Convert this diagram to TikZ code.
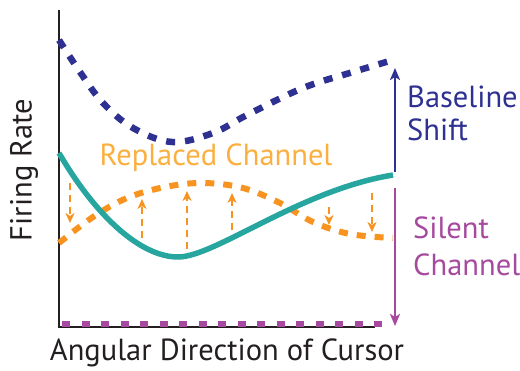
\documentclass[tikz,border=0pt]{standalone}
\usepackage{fontspec}
\setmainfont{PT Sans}
\usetikzlibrary{arrows.meta}
\definecolor{cblue}{HTML}{2E3192}
\definecolor{cteal}{HTML}{26A69E}
\definecolor{corange}{HTML}{F7931E}
\definecolor{ctext}{HTML}{FBAF3F}
\definecolor{cmag}{HTML}{A54A9F}
\definecolor{cgray}{HTML}{231F20}
\tikzset{
  axisline/.style={draw=cgray, line width=1.8pt},
  lbl/.style={font=\fontsize{30.5}{33}\selectfont, inner sep=0pt},
  bluecurve/.style={draw=cblue, line width=6.5pt, dash pattern=on 9pt off 10pt},
  tealcurve/.style={draw=cteal, line width=5.5pt},
  orangecurve/.style={draw=corange, line width=6pt, dash pattern=on 9pt off 9pt},
  magcurve/.style={draw=cmag, line width=6pt, dash pattern=on 8pt off 11.5pt},
  shiftarrow/.style={line width=2.2pt, -{Stealth[length=12pt, width=10pt, inset=3pt]}},
  orangearrow/.style={draw=corange, line width=2pt, dash pattern=on 7pt off 5pt, -{Stealth[length=10pt, width=9pt, inset=3pt]}}
}
\begin{document}
\begin{tikzpicture}[x=1pt, y=-1pt]
\useasboundingbox (0,0) rectangle (520,371);
% axes
\coordinate (ytop) at (59,10);
\coordinate (orig) at (59,327);
\coordinate (xend) at (375,327);
\draw[axisline] (ytop) -- (orig) -- (xend);
% silent channel
\coordinate (s0) at (62,324.5);
\coordinate (s1) at (386,324.5);
\draw[magcurve] (s0) -- (s1);
% blue baseline-shifted curve
\draw[bluecurve] plot[smooth, tension=0.6] coordinates {(59,40) (80,72) (103,103) (133,128) (172,142) (213,133) (247,115) (303,88) (353,72) (393,60)};
% orange replaced channel
\draw[orangecurve] plot[smooth, tension=0.6] coordinates {(59,243) (93,217) (127,198) (165,187) (203,183) (243,188) (280,203) (313,222) (350,234) (393,238)};
% teal original curve
\coordinate (t0) at (59,153);
\coordinate (tmin) at (178,257);
\coordinate (t1) at (393,175);
\draw[tealcurve] (t0) .. controls (95,215) and (140,257) .. (tmin) .. controls (215,257) and (300,190) .. (t1);
% orange arrows
\coordinate (a1s) at (70,183);  \coordinate (a1e) at (70,223);
\coordinate (a2s) at (142,238); \coordinate (a2e) at (142,199);
\coordinate (a3s) at (187,249); \coordinate (a3e) at (187,191);
\coordinate (a4s) at (232,230); \coordinate (a4e) at (232,193);
\coordinate (a5s) at (329,207); \coordinate (a5e) at (329,225);
\coordinate (a6s) at (372,193); \coordinate (a6e) at (372,232);
\draw[orangearrow] (a1s) -- (a1e);
\draw[orangearrow] (a2s) -- (a2e);
\draw[orangearrow] (a3s) -- (a3e);
\draw[orangearrow] (a4s) -- (a4e);
\draw[orangearrow] (a5s) -- (a5e);
\draw[orangearrow] (a6s) -- (a6e);
% shift arrows
\coordinate (b0) at (395,172); \coordinate (b1) at (395,68);
\draw[shiftarrow, draw=cblue, fill=cblue] (b0) -- (b1);
\coordinate (m0) at (395,188); \coordinate (m1) at (395,326);
\draw[shiftarrow, draw=cmag, fill=cmag] (m0) -- (m1);
% labels
\node[lbl, text=ctext] (rep) at (216,158) {Replaced Channel};
\node[lbl, text=cblue, align=left, anchor=west] (bsl) at (407,113) {Baseline\\Shift};
\node[lbl, text=cmag, align=left, anchor=west] (sil) at (413,246) {Silent\\[4pt]Channel};
\node[lbl, text=cgray, rotate=90] (ylab) at (24,170) {Firing Rate};
\node[lbl, text=cgray] (xlab) at (227,353) {Angular Direction of Cursor};
\end{tikzpicture}
\end{document}
